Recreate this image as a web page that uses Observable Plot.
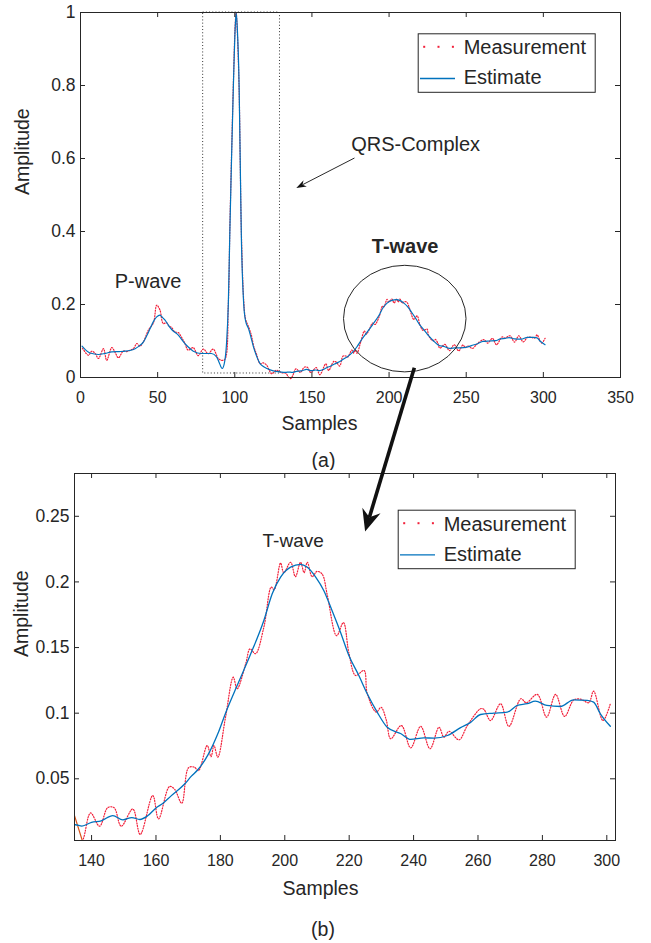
<!DOCTYPE html>
<html><head><meta charset="utf-8">
<script src="https://cdn.jsdelivr.net/npm/d3@7"></script>
<script src="https://cdn.jsdelivr.net/npm/@observablehq/plot@0.6"></script>
<style>
body{margin:0;background:#fff;font-family:"Liberation Sans",Arial,Helvetica,sans-serif;}
#wrap{position:relative;width:651px;height:943px;overflow:hidden;}
#wrap > svg{display:block}
#overlay{position:absolute;left:0;top:0;pointer-events:none}
</style></head><body><div id="wrap"></div>
<script>
// ---------------- data ----------------
const measX = [1.3,5.2,7.3,9.5,11.6,14.9,17,20.3,22.5,24.6,27.8,30,32.2,34.5,36.5,38.5,40.8,44,47.3,49.4,51.5,53.6,55.8,57.5,59.1,61,63.4,65.5,67.5,69.8,73,76.3,79.6,82.8,86,89.3,91.5,93.6,95.8,96.8,97.9,99.1,100.3,100.9,101.6,102.8,103.5,104.2,105.8,107,109.3,110.8,112.3,114,116.4,118.5,120.8,122.5,124,127,130.4,133,135,136.3,137.6,139.7,142.5,145,147,149.2,152.8,155.1,159,160.8,164.2,165.8,168,170.1,171.9,173.2,175.9,177.1,178,179.2,181.6,184,185.2,187.9,189.2,190.9,193.5,195.8,196.7,198.7,199.7,201.8,203.3,204.9,206,207,208.5,210,211.6,213.2,216.1,218.2,219.9,222,224.6,225.6,228.4,229.9,231.5,232.9,236.2,239.1,242.2,245.1,247.9,249.4,251,254.1,256.7,260.8,261.8,263.9,267,269.6,273.3,275,278.4,281.3,284.1,286.9,289.7,291.8,294.4,295.9,298.8,301.1];
const measY = [0.080,0.061,0.072,0.066,0.052,0.079,0.047,0.082,0.068,0.054,0.073,0.071,0.075,0.080,0.093,0.086,0.098,0.130,0.150,0.198,0.185,0.148,0.150,0.140,0.137,0.125,0.123,0.110,0.095,0.075,0.082,0.060,0.078,0.065,0.078,0.052,0.047,0.050,0.20,0.41,0.61,0.81,0.97,1.0,0.95,0.79,0.60,0.41,0.21,0.16,0.135,0.115,0.085,0.065,0.038,0.040,0.033,0.018,0.010,0.020,0.013,0.012,0.0,-0.003,0.0055,0.024,0.0139,0.028,0.028,0.0139,0.027,0.0076,0.0373,0.0195,0.0441,0.042,0.0314,0.0584,0.0589,0.0563,0.0754,0.0668,0.0754,0.0665,0.097,0.1274,0.1186,0.138,0.149,0.1453,0.1655,0.196,0.194,0.2144,0.207,0.215,0.204,0.215,0.207,0.215,0.204,0.208,0.206,0.190,0.159,0.169,0.146,0.1287,0.1325,0.115,0.1008,0.1045,0.095,0.0805,0.0906,0.0736,0.0899,0.0729,0.0893,0.0817,0.0862,0.0797,0.0906,0.1034,0.103,0.0944,0.1072,0.0899,0.111,0.108,0.1143,0.097,0.1143,0.0975,0.110,0.1107,0.108,0.1168,0.0944,0.1072];
const estX = [1,4,6.2,11.6,16,20.3,25,28.9,32,35.4,38,40.8,43,45.1,47.5,49.4,51.5,53,54.8,57,59.1,63.4,67.7,70,73.1,78.5,84.9,88.2,90,91.8,93.5,94.6,95.8,96.8,97.9,99.1,100.3,100.9,101.6,102.8,103.5,104.2,105.8,107,108.9,110.5,112.1,114,116.4,118.5,120.8,125,129.4,133,135,137,140,143,146.6,149.7,152.5,155,157.5,160.1,162,164.7,168.9,171,173,176.1,179.2,181.6,185.2,189.4,193.5,196.1,198.7,201.8,204.9,206.9,209.6,212.1,214.7,217.3,219.9,223,225.6,228.7,231.8,236.1,239.1,243.2,246.3,250.5,254.6,257.7,260.8,264.9,269.1,272.2,275.3,277.8,281.4,285.6,289.7,293.9,295.9,298,301.1];
const estY = [0.086,0.073,0.067,0.063,0.066,0.070,0.071,0.072,0.074,0.079,0.086,0.0975,0.115,0.134,0.155,0.166,0.171,0.165,0.157,0.143,0.1315,0.116,0.093,0.083,0.072,0.0657,0.0657,0.0565,0.04,0.0246,0.045,0.09,0.2,0.4,0.6,0.8,0.96,1.0,0.96,0.8,0.6,0.4,0.2,0.155,0.134,0.11,0.084,0.06,0.038,0.03,0.0246,0.018,0.0154,0.014,0.015,0.014,0.0169,0.018,0.022,0.0187,0.0205,0.019,0.022,0.028,0.031,0.037,0.046,0.052,0.0569,0.068,0.0843,0.1,0.121,0.145,0.1706,0.191,0.2037,0.2113,0.2133,0.2113,0.2037,0.1935,0.178,0.1617,0.144,0.1287,0.1148,0.1008,0.0893,0.0843,0.080,0.0812,0.081,0.083,0.089,0.093,0.099,0.100,0.1008,0.1059,0.1072,0.1092,0.1059,0.1051,0.1102,0.1097,0.1084,0.0995,0.090];
const transientX = [134.7, 137.5];
const transientY = [0.022, 0.0];

const topXTicks = [0, 50, 100, 150, 200, 250, 300, 350];
const topYTicks = [0, 0.2, 0.4, 0.6, 0.8, 1];
const botXTicks = [140, 160, 180, 200, 220, 240, 260, 280, 300];
const botYTicks = [0.05, 0.1, 0.15, 0.2, 0.25];
const legendLabels = ["Measurement", "Estimate"];
const topNotes = [{x: 43.8, y: 0.264, t: "P-wave"}, {x: 217.2, y: 0.639, t: "QRS-Complex"}];
const topBoldNotes = [{x: 210.4, y: 0.358, t: "T-wave"}];
const botNotes = [{x: 202.6, y: 0.2309, t: "T-wave"}];

// ---------------- build ----------------
const FONT = '"Liberation Sans", Arial, Helvetica, sans-serif';
const INK = "#262626";
const RED = "#f2203a";
const BLUE = "#0072bd";
const fmt = d3.format("~g");
const meas = measX.map((x, i) => ({x, y: measY[i]}));
const est = estX.map((x, i) => ({x, y: estY[i]}));
const trans = transientX.map((x, i) => ({x, y: transientY[i]}));

function panel(o) {
  const W = o.width - o.ml - o.mr, H = o.height - o.mt - o.mb, tl = 5;
  return Plot.plot({
    width: o.width, height: o.height,
    marginLeft: o.ml, marginRight: o.mr, marginTop: o.mt, marginBottom: o.mb,
    style: {fontFamily: FONT, color: INK, background: "white"},
    x: {domain: o.xDomain, label: null},
    y: {domain: o.yDomain, label: null},
    marks: [
      ...o.marks,
      Plot.frame({stroke: INK, strokeWidth: 1}),
      Plot.ruleX(o.xTicks, {x: d => d, insetTop: H - tl, stroke: INK}),
      Plot.ruleX(o.xTicks, {x: d => d, insetBottom: H - tl, stroke: INK}),
      Plot.ruleY(o.yTicks, {y: d => d, insetRight: W - tl, stroke: INK}),
      Plot.ruleY(o.yTicks, {y: d => d, insetLeft: W - tl, stroke: INK}),
      Plot.axisX(o.xTicks, {anchor: "bottom", tickSize: 0, tickPadding: o.xPad, tickFormat: fmt, fontSize: o.xFont, label: null}),
      Plot.axisY(o.yTicks, {anchor: "left", tickSize: 0, tickPadding: 5, tickFormat: fmt, fontSize: o.yFont, label: null}),
      Plot.text(["Samples"], {text: d => d, frameAnchor: "bottom", lineAnchor: "middle", dx: o.xlDx, dy: o.xlDy, fontSize: 19.5, fill: INK}),
      Plot.text(["Amplitude"], {text: d => d, frameAnchor: "left", lineAnchor: "middle", rotate: -90, dx: o.ylDx, fontSize: 19.5, fill: INK}),
      Plot.text([o.caption], {text: d => d, frameAnchor: "bottom", lineAnchor: "middle", dx: o.capDx, dy: o.capDy, fontSize: 19.5, fill: INK}),
      Plot.text(o.notes, {x: "x", y: "y", text: "t", lineAnchor: "middle", fontSize: o.noteFont, fill: INK}),
      Plot.text(o.boldNotes, {x: "x", y: "y", text: "t", lineAnchor: "middle", fontSize: o.noteFont, fontWeight: "bold", fill: INK})
    ]
  });
}

const measStyle = {x: "x", y: "y", stroke: RED, strokeWidth: 1.2, strokeDasharray: "1.1,1.6", curve: "catmull-rom"};

const topPlot = panel({
  width: 651, height: 470, ml: 80, mr: 31, mt: 12, mb: 93,
  xDomain: [0, 350], yDomain: [0, 1], xTicks: topXTicks, yTicks: topYTicks,
  xPad: 14.3, xFont: 16, yFont: 17.5,
  xlDx: -31, xlDy: 46, ylDx: -58, capDx: -27, capDy: 83, caption: "(a)",
  notes: topNotes, boldNotes: topBoldNotes, noteFont: 20,
  marks: [
    Plot.rect([{x1: 79.5, x2: 129.3, y1: 0.011, y2: 1}], {x1: "x1", x2: "x2", y1: "y1", y2: "y2", fill: "none", stroke: "#333", strokeWidth: 1, strokeDasharray: "1,2.2"}),
    Plot.line(meas, measStyle),
    Plot.line(est, {x: "x", y: "y", stroke: BLUE, strokeWidth: 1.2, curve: "monotone-x"})
  ]
});

const botPlot = panel({
  width: 651, height: 473, ml: 74, mr: 36, mt: 3, mb: 103,
  xDomain: [134.7, 302.7], yDomain: [0.003, 0.2826], xTicks: botXTicks, yTicks: botYTicks,
  xPad: 13.8, xFont: 16, yFont: 17.5,
  xlDx: -24.5, xlDy: 48.3, ylDx: -52.3, capDx: -22, capDy: 89, caption: "(b)",
  notes: botNotes, boldNotes: [], noteFont: 19,
  marks: [
    Plot.line(trans, {x: "x", y: "y", stroke: "#d95319", strokeWidth: 1.2, clip: true}),
    Plot.line(meas, {...measStyle, clip: true}),
    Plot.line(est, {x: "x", y: "y", stroke: BLUE, strokeWidth: 1.3, curve: "monotone-x", clip: true})
  ]
});

const wrap = document.getElementById("wrap");
wrap.appendChild(topPlot);
wrap.appendChild(botPlot);

// ---------------- annotations overlay ----------------
const BOT_OFF = 470;
const tx = topPlot.scale("x").apply, ty = topPlot.scale("y").apply;
const bx = botPlot.scale("x").apply, by = v => botPlot.scale("y").apply(v) + BOT_OFF;
const ov = d3.select(wrap).append("svg").attr("id", "overlay").attr("width", 651).attr("height", 943);

// ellipse around T-wave
{
  const cx = tx(210.5), cy = ty(0.16);
  ov.append("ellipse").attr("cx", cx).attr("cy", cy)
    .attr("rx", tx(210.5 + 39.7) - cx).attr("ry", ty(0.16 - 0.146) - cy)
    .attr("fill", "none").attr("stroke", INK).attr("stroke-width", 1);
}

function arrow(p0, p1, w, headLen, headHalf, notch) {
  const dx = p1[0] - p0[0], dy = p1[1] - p0[1], L = Math.hypot(dx, dy);
  const u = [dx / L, dy / L], n = [-u[1], u[0]];
  const back = [p1[0] - notch * u[0], p1[1] - notch * u[1]];
  ov.append("line").attr("x1", p0[0]).attr("y1", p0[1]).attr("x2", back[0]).attr("y2", back[1])
    .attr("stroke", "#111").attr("stroke-width", w);
  const b = [p1[0] - headLen * u[0], p1[1] - headLen * u[1]];
  const pts = [p1, [b[0] + headHalf * n[0], b[1] + headHalf * n[1]], back, [b[0] - headHalf * n[0], b[1] - headHalf * n[1]]];
  ov.append("path").attr("d", "M" + pts.map(p => p.join(",")).join("L") + "Z").attr("fill", "#111");
}
arrow([tx(177.9), ty(0.6)], [tx(140.2), ty(0.518)], 0.9, 10, 3.6, 7);
arrow([tx(216.7), ty(0.0255)], [bx(225.1), by(0.238)], 3.6, 22, 9.5, 15);

// legends
function legend(left, top) {
  const g = ov.append("g").attr("transform", `translate(${left},${top})`);
  g.append("rect").attr("x", 0.5).attr("y", 0.5).attr("width", 177).attr("height", 58.5)
    .attr("fill", "white").attr("stroke", INK).attr("stroke-width", 1);
  [6.5, 20.8, 35.2].forEach(x => g.append("rect").attr("x", x - 1).attr("y", 12.5).attr("width", 2).attr("height", 2).attr("fill", RED));
  g.append("line").attr("x1", 2.3).attr("x2", 37.3).attr("y1", 45.2).attr("y2", 45.2).attr("stroke", BLUE).attr("stroke-width", 1.3);
  legendLabels.forEach((t, i) => g.append("text").attr("x", 46).attr("y", i ? 51.2 : 21.2)
    .attr("font-family", FONT).attr("font-size", 20).attr("fill", INK).text(t));
}
{
  const xr = topPlot.scale("x").range, yr = topPlot.scale("y").range;
  legend(xr[1] - 202.3, yr[1] + 21.3);
  const xr2 = botPlot.scale("x").range, yr2 = botPlot.scale("y").range;
  legend(xr2[1] - 217.3, yr2[1] + BOT_OFF + 36.7);
}
</script></body></html>
